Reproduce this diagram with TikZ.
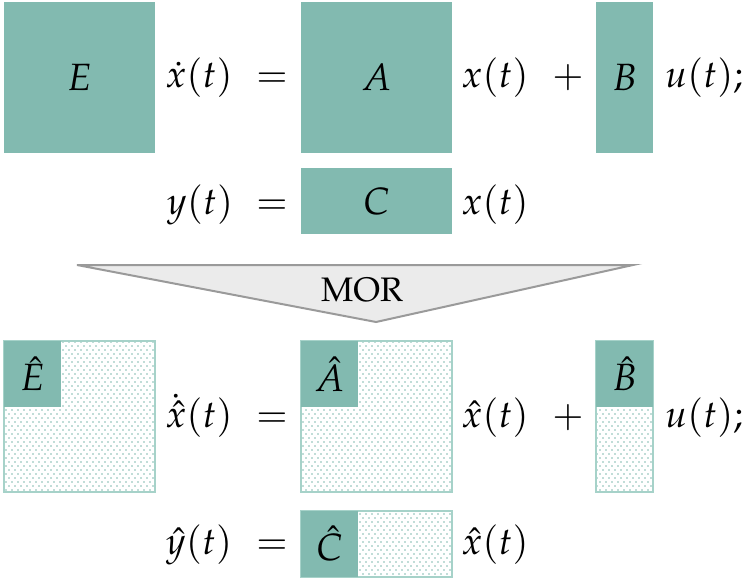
\documentclass[tikz,border=0pt]{standalone}
\usepackage{mathpazo}
\usetikzlibrary{patterns}

\definecolor{tealbox}{HTML}{82BAB0}
\definecolor{teallight}{HTML}{A6D2C9}
\definecolor{morfill}{HTML}{EBEBEB}
\definecolor{morline}{HTML}{9A9A9A}

% staggered dots for the truncated parts
\pgfdeclarepatternformonly{sparsedots}{\pgfqpoint{-1pt}{-1pt}}{\pgfqpoint{4pt}{5pt}}{\pgfqpoint{3pt}{4pt}}{
  \pgfpathcircle{\pgfqpoint{0pt}{0pt}}{0.42pt}
  \pgfpathcircle{\pgfqpoint{1.5pt}{2pt}}{0.42pt}
  \pgfusepath{fill}
}

\begin{document}
\begin{tikzpicture}[
  x=0.5pt, y=-0.5pt,
  every node/.style={font=\fontsize{19}{23}\selectfont},
  full/.style={
    fill=tealbox,
    inner sep=0pt,
    outer sep=0pt,
    anchor=north west
  },
  reduced/.style={
    draw=teallight,
    line width=0.6pt,
    pattern=sparsedots,
    pattern color=tealbox,
    inner sep=0pt,
    outer sep=0pt,
    anchor=north west
  },
  term/.style={anchor=base, inner sep=0pt}
]
\useasboundingbox (0,0) rectangle (744,578);

% Full order system
\node[full, minimum width=75.5pt, minimum height=75.5pt] (E) at (4,2) {$E$};
\node[full, minimum width=75.5pt, minimum height=75.5pt] (A) at (301,2) {$A$};
\node[full, minimum width=28.5pt, minimum height=75.5pt] (B) at (596,2) {$B$};
\node[full, minimum width=75.5pt, minimum height=33pt] (C) at (301,168) {$C$};

\node[term] (xdot) at (199,87) {$\dot{x}(t)$};
\node[term] (eq1) at (272,87) {$=$};
\node[term] (x1) at (495,87) {$x(t)$};
\node[term] (plus1) at (568,87) {$+$};
\node[term] (u1) at (704,87) {$u(t);$};

\node[term] (y) at (200,214) {$y(t)$};
\node[term] (eq2) at (272,214) {$=$};
\node[term] (x2) at (495,214) {$x(t)$};

% Reduction step
\draw[morline, fill=morfill, line width=1pt] (77,265) -- (633,265) -- (376,322) -- cycle;
\node[font=\fontsize{17}{20}\selectfont] (mor) at (362,290) {$\mathrm{MOR}$};

% Reduced order system
\node[reduced, minimum width=75.5pt, minimum height=75.5pt] (Ered) at (4,341) {};
\node[full, minimum width=28.5pt, minimum height=33pt] (Ehat) at (Ered.north west) {$\hat{E}$};
\node[reduced, minimum width=75.5pt, minimum height=75.5pt] (Ared) at (301,341) {};
\node[full, minimum width=28.5pt, minimum height=33pt] (Ahat) at (Ared.north west) {$\hat{A}$};
\node[reduced, minimum width=28.5pt, minimum height=75.5pt] (Bred) at (596,341) {};
\node[full, minimum width=28.5pt, minimum height=33pt] (Bhat) at (Bred.north west) {$\hat{B}$};
\node[reduced, minimum width=75.5pt, minimum height=33pt] (Cred) at (301,511) {};
\node[full, minimum width=28.5pt, minimum height=33pt] (Chat) at (Cred.north west) {$\hat{C}$};

\node[term] (xhatdot) at (199,427) {$\dot{\hat{x}}(t)$};
\node[term] (eq3) at (272,427) {$=$};
\node[term] (x3) at (495,427) {$\hat{x}(t)$};
\node[term] (plus2) at (568,427) {$+$};
\node[term] (u2) at (704,427) {$u(t);$};

\node[term] (yhat) at (199,554) {$\hat{y}(t)$};
\node[term] (eq4) at (272,554) {$=$};
\node[term] (x4) at (495,554) {$\hat{x}(t)$};

\end{tikzpicture}
\end{document}
